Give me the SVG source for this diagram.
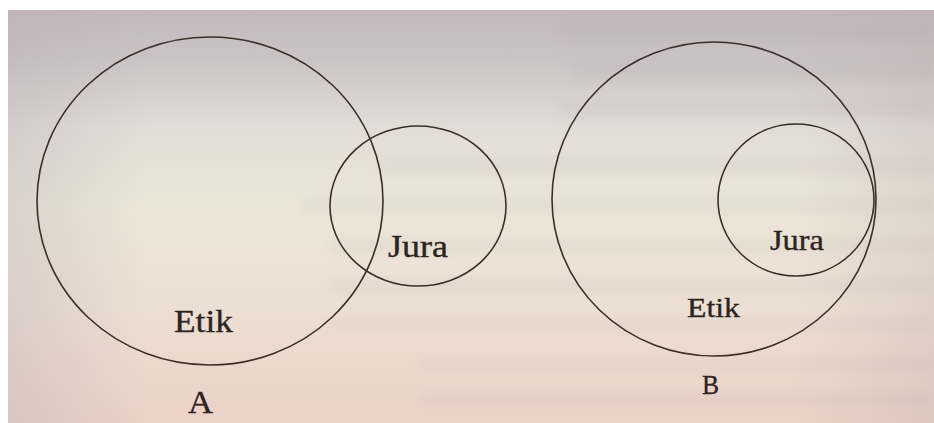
<svg xmlns="http://www.w3.org/2000/svg" width="934" height="423" viewBox="0 0 934 423">
  <defs>
    <linearGradient id="bg" x1="0" y1="0" x2="0" y2="1">
      <stop offset="0" stop-color="#c2b8bd"/>
      <stop offset="0.12" stop-color="#cbc3c5"/>
      <stop offset="0.28" stop-color="#e2dcd6"/>
      <stop offset="0.48" stop-color="#ece6d8"/>
      <stop offset="0.72" stop-color="#ecdfd3"/>
      <stop offset="1" stop-color="#ebd1c7"/>
    </linearGradient>
    <linearGradient id="side" x1="0" y1="0" x2="1" y2="0">
      <stop offset="0" stop-color="#b8aeb4" stop-opacity="0.35"/>
      <stop offset="0.15" stop-color="#b8aeb4" stop-opacity="0"/>
      <stop offset="0.85" stop-color="#b8a8a8" stop-opacity="0"/>
      <stop offset="1" stop-color="#b8a8a8" stop-opacity="0.25"/>
    </linearGradient>
    <filter id="blur" x="-10%" y="-80%" width="120%" height="260%">
      <feGaussianBlur stdDeviation="6"/>
    </filter>
    <style>
      .ring { fill: none; stroke: #3b2f29; stroke-width: 1.6; }
      .lbl { font-family: "Liberation Serif", "DejaVu Serif", serif; fill: #2e241f; stroke: #2e241f; stroke-width: 0.35; }
    </style>
  </defs>

  <rect x="0" y="0" width="934" height="423" fill="#ffffff"/>
  <rect x="8" y="10" width="926" height="413" fill="url(#bg)"/>
  <rect x="8" y="10" width="926" height="413" fill="url(#side)"/>

  <g id="background-shadow" filter="url(#blur)" fill="#a89ea6" opacity="0.13">
    <rect x="560" y="22" width="374" height="18"/>
    <rect x="570" y="60" width="364" height="20"/>
    <rect x="560" y="100" width="374" height="16"/>
    <rect x="380" y="160" width="554" height="12"/>
    <rect x="300" y="200" width="634" height="12"/>
    <rect x="330" y="240" width="604" height="10"/>
    <rect x="330" y="280" width="604" height="10"/>
    <rect x="330" y="320" width="604" height="9"/>
    <rect x="420" y="360" width="514" height="9"/>
    <rect x="420" y="395" width="514" height="9"/>
  </g>

  <g id="diagram-A">
    <g id="A-etik">
      <ellipse class="ring" cx="210" cy="201" rx="173" ry="164"/>
      <text class="lbl" x="174" y="332" font-size="31" textLength="59" lengthAdjust="spacingAndGlyphs">Etik</text>
    </g>
    <g id="A-jura">
      <ellipse class="ring" cx="418" cy="206" rx="88" ry="80"/>
      <text class="lbl" x="388" y="257" font-size="32" textLength="60" lengthAdjust="spacingAndGlyphs">Jura</text>
    </g>
    <text id="A-label" class="lbl" x="188" y="413" font-size="31" textLength="25" lengthAdjust="spacingAndGlyphs">A</text>
  </g>

  <g id="diagram-B">
    <g id="B-etik">
      <ellipse class="ring" cx="714" cy="199" rx="162" ry="157"/>
      <text class="lbl" x="687" y="317" font-size="28" textLength="53" lengthAdjust="spacingAndGlyphs">Etik</text>
    </g>
    <g id="B-jura">
      <ellipse class="ring" cx="796" cy="200" rx="78" ry="76"/>
      <text class="lbl" x="770" y="250" font-size="29" textLength="54" lengthAdjust="spacingAndGlyphs">Jura</text>
    </g>
    <text id="B-label" class="lbl" x="702" y="394" font-size="28" textLength="17" lengthAdjust="spacingAndGlyphs">B</text>
  </g>

  <g id="connectors"/>
</svg>
